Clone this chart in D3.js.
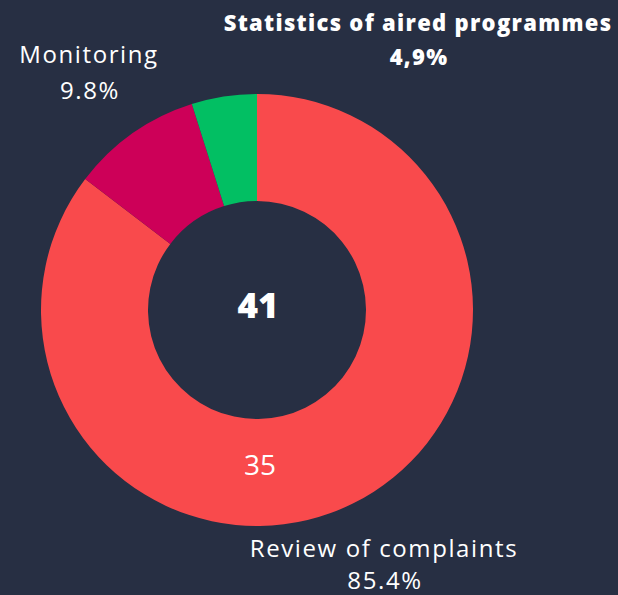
<!DOCTYPE html>
<html>
<head>
<meta charset="utf-8">
<script src="https://cdn.jsdelivr.net/npm/d3@7"></script>
<style>
  html, body { margin: 0; padding: 0; background: #272f43; }
  svg { display: block; }
</style>
</head>
<body>
<svg id="chart" width="618" height="595"></svg>
<script>
// data
const categories = ['Review of complaints', 'Monitoring', 'Statistics of aired programmes']
const values = [35, 4, 2]
const percentLabels = ['85.4%', '9.8%', '4,9%']
const colors = ['#f94a4c', '#cd0058', '#02bf63']

const width = 618, height = 595
const cx = 257, cy = 310
const outerR = 216, innerR = 109
const font = '"Open Sans", "Noto Sans", sans-serif'

const svg = d3.select('#chart')
svg.append('rect').attr('width', width).attr('height', height).attr('fill', '#272f43')

const pie = d3.pie().sort(null).value(d => d)
const arc = d3.arc().innerRadius(innerR).outerRadius(outerR)
const arcs = pie(values)

const g = svg.append('g').attr('transform', `translate(${cx},${cy})`)
g.selectAll('path')
  .data(arcs)
  .enter()
  .append('path')
  .attr('d', arc)
  .attr('fill', (d, i) => colors[i])

// total in the hole
g.append('text')
  .attr('x', 1).attr('y', 8)
  .attr('text-anchor', 'middle')
  .style('font-family', font)
  .style('font-weight', 800)
  .style('font-size', '35px')
  .style('fill', '#fff')
  .text(d3.sum(values))

// value inside the big slice
g.append('text')
  .attr('x', 3).attr('y', 165)
  .attr('text-anchor', 'middle')
  .style('font-family', font)
  .style('font-size', '28px')
  .style('fill', '#fff')
  .text(values[0])

// outside labels
const labelPos = [
  { x: 384, y: 557, y2: 589, bold: false },
  { x: 89, y: 63, y2: 99, bold: false },
  { x: 418, y: 31, y2: 65, bold: true }
]
categories.forEach((c, i) => {
  const p = labelPos[i]
  const t = svg.append('g')
    .style('font-family', font)
    .style('fill', '#fff')
    .style('font-weight', p.bold ? 800 : 400)
    .style('font-size', p.bold ? '22px' : '24px')
    .style('letter-spacing', p.bold ? '1.3px' : '1.6px')
    .attr('text-anchor', 'middle')
  t.append('text').attr('x', p.x).attr('y', p.y).text(c)
  t.append('text').attr('x', p.x + 1).attr('y', p.y2).text(percentLabels[i])
})
</script>
</body>
</html>
